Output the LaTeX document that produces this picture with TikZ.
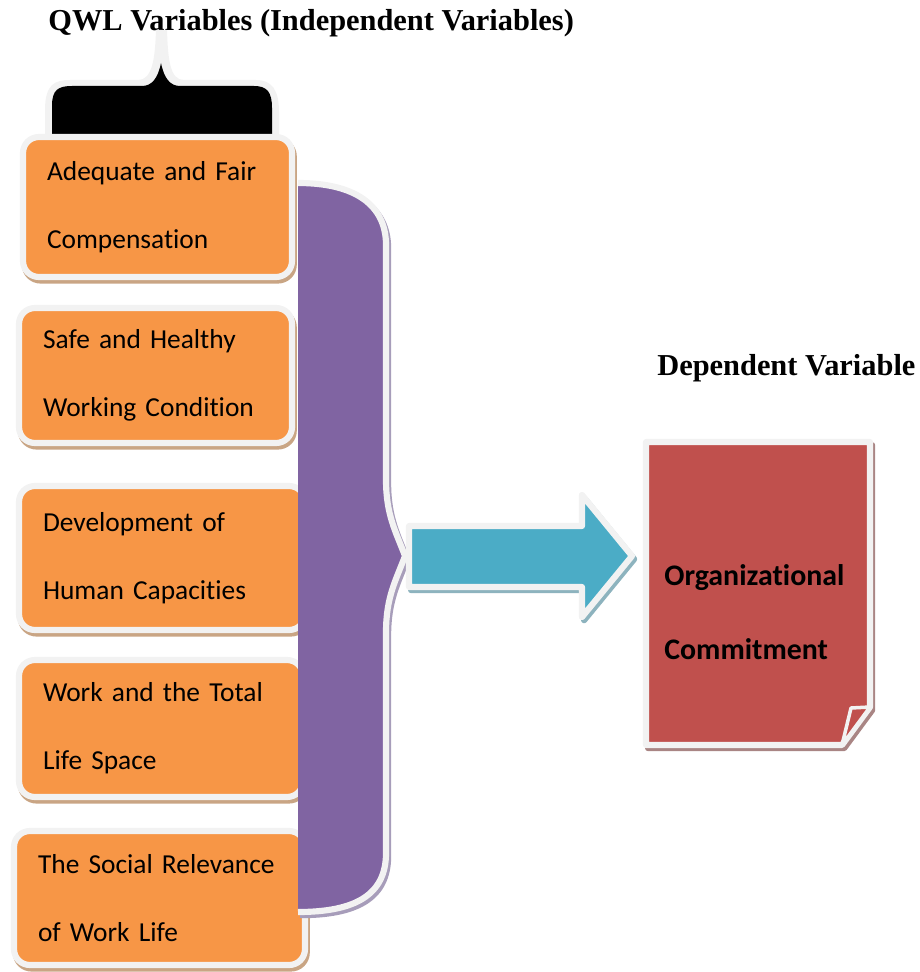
\documentclass[tikz,border=0pt]{standalone}
\usepackage{fontspec}
\setmainfont{Liberation Serif}
\newfontfamily\calibri[Ligatures=NoCommon]{Carlito}
\usepackage{tikz}

\definecolor{qwlorange}{HTML}{F79646}
\definecolor{qwlpurple}{HTML}{8064A2}
\definecolor{qwlcyan}{HTML}{4BACC6}
\definecolor{qwlred}{HTML}{C0504D}
\definecolor{glow}{HTML}{F2F2F2}
\definecolor{orangeshade}{HTML}{C9A584}
\definecolor{purpleshade}{HTML}{A79DBA}
\definecolor{cyanshade}{HTML}{8DB3BE}
\definecolor{redshade}{HTML}{A98584}

\tikzset{
  qwlbox/.style={rounded corners=9pt, fill=qwlorange, draw=glow, line width=3.5pt,
    inner xsep=0.48cm, inner ysep=0pt, align=left,
    font=\calibri\fontsize{15.6}{38.5}\selectfont,
    preaction={draw=orangeshade, fill=orangeshade, transform canvas={shift={(1pt,-2pt)}}}},
  heading/.style={font=\bfseries\fontsize{17.3}{20}\selectfont, inner sep=0pt, anchor=west},
  commitlabel/.style={font=\calibri\bfseries\fontsize{17}{42}\selectfont, align=left, inner sep=0pt},
  glowline/.style={draw=glow, line width=3.5pt, line join=round},
  dropshade/.style={line width=3.5pt, line join=round, transform canvas={shift={(1.2pt,-1.8pt)}}},
}

% outlines of the big shapes
\def\qwlbrace{(298,183) .. controls (355,183) and (386,205) .. (386,245) -- (386,480)
  .. controls (386,515) and (396,532) .. (405,556) .. controls (396,580) and (386,597) .. (386,632)
  -- (386,853) .. controls (386,895) and (355,912) .. (298,912)}
\def\qwlarrow{(409,526) -- (582,526) -- (582,495) -- (632,556) -- (582,617) -- (582,587) -- (409,587) -- cycle}
\def\qwldoc{(646,442) -- (870,442) -- (870,707) -- (842,745) -- (646,745) -- cycle}

\begin{document}
\begin{tikzpicture}[x=0.02cm, y=-0.02cm]
\useasboundingbox (0,0) rectangle (919,972);

% Headings
\node[heading] (qwl) at (48,23) {QWL Variables (Independent Variables)};
\node[heading] (depvar) at (657,368) {Dependent Variable};

% Black brace on top of the variables
\fill[glow] (45,137) -- (45,110) .. controls (45,84) and (55,80) .. (70,80) -- (138,80)
  .. controls (152,80) and (155,60) .. (156,30) -- (167,30) .. controls (168,60) and (170,80) .. (184,80)
  -- (256,80) .. controls (272,80) and (279,90) .. (279,112) -- (279,137) -- cycle;
\fill[black] (52,137) -- (52,106) .. controls (52,90) and (58,86) .. (72,86) -- (142,86)
  .. controls (152,86) and (158,78) .. (161,63) .. controls (164,78) and (170,86) .. (180,86)
  -- (254,86) .. controls (267,86) and (272,92) .. (272,108) -- (272,137) -- cycle;

% QWL variables
\node[qwlbox, text width=4.42cm, minimum height=2.8cm] (adequate) at (157.5,207) {Adequate and Fair\\Compensation};
\node[qwlbox, text width=4.5cm, minimum height=2.7cm] (safe) at (155.5,375.5) {Safe and Healthy\\Working Condition};
\node[qwlbox, text width=4.76cm, minimum height=2.88cm] (develop) at (162,558) {Development of\\Human Capacities};
\node[qwlbox, text width=4.72cm, minimum height=2.74cm] (lifespace) at (161,728.5) {Work and the Total\\Life Space};
\node[qwlbox, text width=4.86cm, minimum height=2.68cm] (relevance) at (159.5,898) {The Social Relevance\\of Work Life};

% Purple brace
\draw[dropshade, draw=purpleshade] \qwlbrace;
\fill[qwlpurple] \qwlbrace -- cycle;
\draw[glowline] \qwlbrace;

% Block arrow
\draw[dropshade, draw=cyanshade, fill=cyanshade] \qwlarrow;
\draw[glowline, fill=qwlcyan] \qwlarrow;

% Dependent variable sheet
\draw[dropshade, draw=redshade, fill=redshade] \qwldoc;
\draw[glowline, fill=qwlred] \qwldoc;
\draw[draw=glow, line width=2pt, line join=round, fill=qwlred] (842,745) -- (851,708) -- (870,707) -- cycle;
\node[commitlabel, anchor=west] (commit) at (664,612) {Organizational\\Commitment};
\end{tikzpicture}
\end{document}
